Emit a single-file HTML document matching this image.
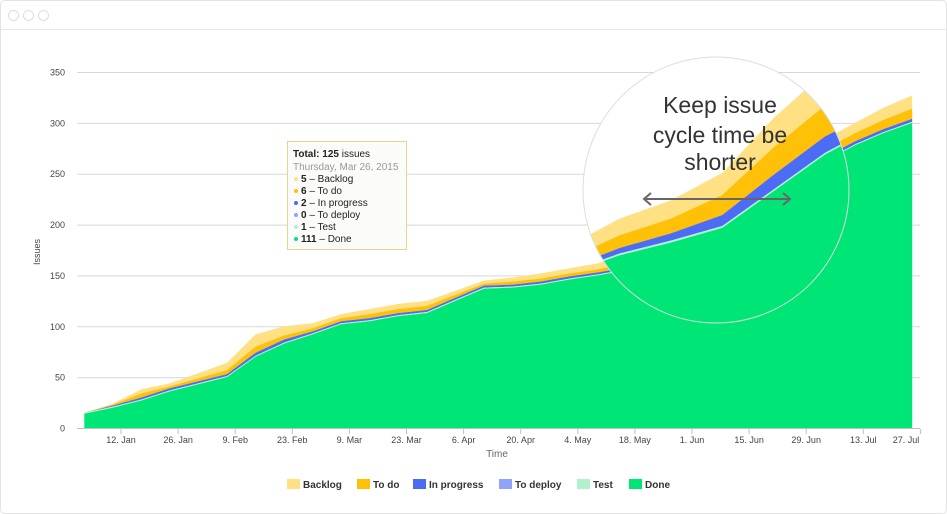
<!DOCTYPE html>
<html><head><meta charset="utf-8"><style>
html,body{margin:0;padding:0;background:#fff;overflow:hidden;width:947px;height:514px;}
svg{display:block;font-family:"Liberation Sans",sans-serif;}
</style></head><body>
<svg id="chart" width="947" height="514" viewBox="0 0 947 514" xmlns="http://www.w3.org/2000/svg">
<defs><clipPath id="mag"><circle cx="716" cy="190" r="133"/></clipPath></defs>
<rect x="0.5" y="0.5" width="946" height="513" rx="4" fill="#fff" stroke="#e3e3e3"/>
<line x1="1" y1="29.5" x2="946" y2="29.5" stroke="#e6e6e6"/>
<circle cx="13.5" cy="15.5" r="5" fill="none" stroke="#ddd"/>
<circle cx="28.5" cy="15.5" r="5" fill="none" stroke="#ddd"/>
<circle cx="43.5" cy="15.5" r="5" fill="none" stroke="#ddd"/>
<g id="grid"></g>
<g id="plot"></g>
<g id="ticks"></g>
<text x="40" y="252" font-size="9" fill="#444" text-anchor="middle" transform="rotate(-90 40 252)">Issues</text>
<text x="497" y="457" font-size="10" fill="#666" text-anchor="middle">Time</text>
<g id="magnifier">
<circle cx="716" cy="190" r="133" fill="#fff"/>
<g clip-path="url(#mag)"><g id="magplot" transform="translate(700 228) scale(1.8) translate(-700 -245)"></g></g>
<circle cx="716" cy="190" r="133" fill="none" stroke="#ddd" stroke-width="1"/>
<text x="720" y="113" font-size="23" fill="#333" text-anchor="middle">Keep issue</text>
<text x="720" y="143" font-size="23" fill="#333" text-anchor="middle">cycle time be</text>
<text x="720" y="170" font-size="23" fill="#333" text-anchor="middle">shorter</text>
<g stroke="#666" stroke-width="2" fill="none">
<line x1="644" y1="199" x2="790" y2="199"/><polyline points="651,193 644,199 651,205"/><polyline points="783,193 790,199 783,205"/>
</g>
</g>
<g>
<rect x="287.5" y="141.5" width="119" height="108" fill="#fbfbf9" stroke="#e8d48a"/>
<text x="293" y="157" font-size="10" fill="#222"><tspan font-weight="bold">Total: 125</tspan> issues</text>
<text x="293" y="170" font-size="10" fill="#999">Thursday, Mar 26, 2015</text>
<g font-size="10" fill="#222">
<circle cx="296" cy="179" r="2" fill="#ffe082"/><text x="301" y="182"><tspan font-weight="bold">5</tspan> – Backlog</text>
<circle cx="296" cy="191" r="2" fill="#ffc107"/><text x="301" y="194"><tspan font-weight="bold">6</tspan> – To do</text>
<circle cx="296" cy="203" r="2" fill="#4d6cf5"/><text x="301" y="206"><tspan font-weight="bold">2</tspan> – In progress</text>
<circle cx="296" cy="215" r="2" fill="#8fa4f8"/><text x="301" y="218"><tspan font-weight="bold">0</tspan> – To deploy</text>
<circle cx="296" cy="227" r="2" fill="#b3f0cc"/><text x="301" y="230"><tspan font-weight="bold">1</tspan> – Test</text>
<circle cx="296" cy="239" r="2" fill="#00e676"/><text x="301" y="242"><tspan font-weight="bold">111</tspan> – Done</text>
</g></g>
<g id="legend"></g>
</svg>
<script>
const days = [2,9,16,23,30,37,44,51,58,65,72,79,86,93,100,107,114,121,128,135,142,149,156,163,170,177,184,191,198,205];
const done = [14,20,27,36,43,50,70,83,92,102,105,110,113,125,137,138,141,146,150,155,165,172,180,200,220,235,263,278,290,300];
const test = [1,1,1,1,1,1,1,1,1,1,1,1,1,1,1,1,1,1,1,1,1,1,1,1,1,1,1,1,1,1];
const toDeploy = [0,0,0,0,0,0,0,0,0,0,0,0,0,0,0,0,0,0,0,0,0,0,0,0,0,0,0,0,0,0];
const inProgress = [0,1,2,2,2,2,3,3,2,2,2,2,2,2,2,2,2,2,2,2,3,4,6,8,9,8,3,3,3,3];
const toDo = [0,1,4,2,3,4,6,4,3,3,4,4,4,3,2,3,3,3,3,5,7,8,11,15,17,18,8,8,9,10];
const backlog = [0,1,4,3,5,7,12,9,5,4,5,5,5,4,3,4,5,5,6,7,9,10,12,16,18,18,10,10,12,13];
const seriesNames = ["Done","Test","To deploy","In progress","To do","Backlog"];
const seriesColors = ["#00e676","#b3f0cc","#8fa4f8","#4d6cf5","#ffc107","#ffe082"];
const yTicks = [0,50,100,150,200,250,300,350];
const xTickDays = [11,25,39,53,67,81,95,109,123,137,151,165,179,193,207];
const xTickLabels = ["12. Jan","26. Jan","9. Feb","23. Feb","9. Mar","23. Mar","6. Apr","20. Apr","4. May","18. May","1. Jun","15. Jun","29. Jun","13. Jul","27. Jul"];

const NS="http://www.w3.org/2000/svg";
const y = v => 428 - v*356/350;
const x = d => 121 + (d-11)*57.1/14;
function mk(tag, attrs, parent){const e=document.createElementNS(NS,tag);for(const k in attrs)e.setAttribute(k,attrs[k]);parent.appendChild(e);return e;}

const grid=document.getElementById('grid'), ticks=document.getElementById('ticks');
yTicks.forEach(v=>{
  const l=mk('line',{x1:77,x2:920,y1:y(v)+0.5,y2:y(v)+0.5,stroke:v===0?'#c0c0c0':'#d8d8d8'},grid);
  
  
  const t=mk('text',{x:65,y:y(v)+3.5,'font-size':9,fill:'#444','text-anchor':'end'},ticks);
  t.textContent=v;
  
  
});
xTickDays.forEach((d,i)=>{
  const xx=Math.min(x(d),906);
  const l=mk('line',{x1:x(d),x2:x(d),y1:429,y2:434,stroke:'#c0c0c0'},ticks);
  
  
  const t=mk('text',{x:xx,y:443,'font-size':9,fill:'#444','text-anchor':'middle'},ticks);
  t.textContent=xTickLabels[i];
  
  
});

const layers=[done,test,toDeploy,inProgress,toDo,backlog];
function drawAreas(g){
  let base=days.map(()=>0);
  const paths=[];
  layers.forEach((arr,li)=>{
    const top=base.map((b,i)=>b+arr[i]);
    let d='M'+days.map((dd,i)=>x(dd).toFixed(1)+','+y(top[i]).toFixed(1)).join('L');
    for(let i=days.length-1;i>=0;i--) d+='L'+x(days[i]).toFixed(1)+','+y(base[i]).toFixed(1);
    paths.push({d:d+'Z',c:seriesColors[li],n:seriesNames[li]});
    base=top;
  });
  paths.reverse().forEach(p=>{
    const e=mk('path',{d:p.d,fill:p.c},g);
    
    
  });
}
drawAreas(document.getElementById('plot'));
drawAreas(document.getElementById('magplot'));

const legend=document.getElementById('legend');
const legX=[287,357,413,499,577,629];
["Backlog","To do","In progress","To deploy","Test","Done"].forEach((n,i)=>{
  const c=seriesColors[seriesNames.indexOf(n)];
  const g=mk('g',{},legend);
  
  
  mk('rect',{x:legX[i],y:479,width:13,height:10,fill:c},g);
  const t=mk('text',{x:legX[i]+16,y:488,'font-size':10,'font-weight':'bold',fill:'#333'},g);
  t.textContent=n;
});
</script>
</body></html>
